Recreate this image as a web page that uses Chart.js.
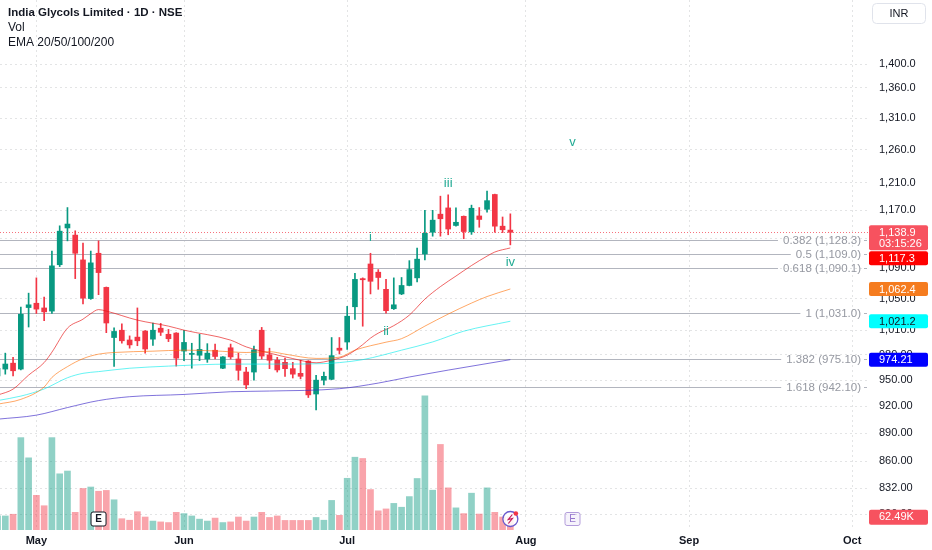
<!DOCTYPE html>
<html>
<head>
<meta charset="utf-8">
<title>India Glycols Limited · 1D · NSE</title>
<script src="https://cdn.jsdelivr.net/npm/chart.js@4.4.1/dist/chart.umd.min.js"></script>
<style>
  html, body { margin: 0; padding: 0; background: #fff; overflow: hidden; }
  #wrap { width: 932px; height: 550px; }
</style>
</head>
<body>
<div id="wrap"><canvas id="chart" width="932" height="550"></canvas></div>
<script>
// daily candles, index = trading day (0 is the one cut off at the left edge)
const opens = [955, 963, 970, 963, 1038.5, 1044, 1038, 1034, 1094.5, 1145, 1135, 1101, 1050, 1110, 1064.5, 1001,
  1010, 998, 1001.5, 1009, 999, 1012.5, 1005, 1006.5, 984.5, 980.5, 979.5, 975, 985.5, 964, 988.5, 975, 959.5,
  959.5, 1010, 980, 973.5, 971, 963.5, 958, 972.5, 934, 950, 951, 988, 995.5, 1039.5, 1076, 1095.5, 1084.5,
  1062, 1037, 1056, 1067, 1077, 1109, 1139, 1164.5, 1173.5, 1148.5, 1161.5, 1139.5, 1162, 1171.5, 1193, 1147.5, 1142];
const highs = [968, 982, 977, 1039, 1057, 1077, 1052, 1113, 1148, 1174, 1141, 1124, 1113, 1127, 1065, 1013,
  1018, 1003, 1038, 1009.5, 1019, 1018.5, 1011, 1007, 1010, 994, 1005, 993.5, 993, 978, 993, 982, 965,
  990.5, 1013.5, 988, 977, 976, 971, 973.5, 973, 955.5, 959.5, 1001, 1001, 1040, 1083, 1077, 1110, 1088,
  1075, 1077, 1077.5, 1100, 1117, 1170, 1170, 1190.5, 1192.5, 1173.5, 1162, 1177.5, 1174, 1198, 1193.5, 1160.5, 1165];
const lows = [950, 957, 955, 962, 1014, 1031, 1022, 1031, 1092, 1127, 1076, 1043, 1049, 1055, 1007, 966,
  994, 988, 991, 982, 991.5, 1003.5, 996, 966.5, 973, 964, 973, 971, 975, 963.5, 975, 950, 940,
  950, 975, 963.5, 959.5, 954.5, 952.5, 951.5, 930, 916, 944.5, 950.5, 981, 986.5, 1023.5, 1015, 1056, 1062,
  1031.5, 1036, 1055, 1066.5, 1071.5, 1101, 1133.5, 1133.5, 1135.5, 1147.5, 1130, 1136, 1146, 1167.5, 1139, 1138.5, 1121.5];
const closes = [964, 969, 961, 1030, 1042, 1036.5, 1033, 1093, 1140.5, 1150.5, 1110, 1050.5, 1097, 1084, 1019, 1008.5,
  997, 992, 997, 987, 1010, 1007.5, 999.5, 976, 995, 981.5, 986.5, 982, 978, 977.5, 977.5, 961.5, 944.5,
  986, 978.5, 973.5, 962, 963.5, 957, 954.5, 933, 950, 954.5, 979, 985.5, 1027.5, 1075, 1074.5, 1072.5, 1077.5,
  1034.5, 1042, 1067, 1088, 1102, 1137.5, 1156, 1158, 1143.5, 1153, 1140, 1173, 1157, 1184, 1147.5, 1142.5, 1138.9];
// volume in thousands
const volumes = [66, 66, 74, 434, 339, 163, 114, 434, 264, 277, 83, 195, 202, 182, 186, 142,
  53, 46, 86, 61, 42, 38, 35, 83, 77, 66, 51, 42, 56, 35, 38, 61, 42,
  61, 83, 59, 66, 45, 45, 45, 45, 59, 46, 139, 69, 243, 342, 336, 190, 90,
  99, 125, 107, 157, 242, 630, 187, 402, 198, 104, 77, 173, 75, 198, 83, 61, 62.49];

// EMA lines at a few trading days
const ema20Idx = [0, 2, 4, 6, 7, 9, 11, 12, 13, 14, 18, 22, 24, 30, 32, 35, 38, 41, 43, 45, 47, 48, 49, 51, 53, 55, 57, 59, 61, 63, 64, 66];
const ema20 = [932.7, 939.6, 955.9, 970.7, 983.2, 1012.6, 1023.8, 1030.8, 1035.9, 1034, 1022.6, 1015.1, 1010.1, 997.8, 989.6,
  982.1, 975.5, 970.5, 973.6, 979.6, 992.3, 1000.3, 1006.4, 1015.7, 1028.9, 1049.3, 1065.5, 1079.4, 1093.4, 1106.1, 1111.7, 1117.3];
const ema50Idx = [0, 3, 6, 7, 9, 11, 13, 15, 20, 24, 28, 32, 35, 37, 41, 44, 46, 50, 52, 55, 58, 61, 63, 66];
const ema50 = [922.4, 927.9, 942.1, 953.2, 965.9, 975.4, 980.8, 982.8, 984.4, 985.6, 984.7, 982.8, 983.8, 980.8, 975.7,
  977.2, 985.6, 995.3, 999.6, 1015.1, 1030.2, 1044.2, 1052.6, 1062.4];
const ema100Idx = [0, 3, 6, 9, 11, 13, 17, 22, 26, 30, 36, 42, 44, 47, 52, 56, 60, 66];
const ema100 = [926.5, 931.6, 939.8, 952.8, 958, 960, 964, 966.5, 968.1, 968.9, 968.9, 969.5, 970.7, 974.2, 985.6, 995.6, 1008.8, 1021.2];
const ema200Idx = [0, 5, 9, 13, 17, 24, 30, 35, 44, 49, 53, 58, 66];
const ema200 = [905.6, 910.1, 918.6, 926.5, 930.9, 933.5, 936.6, 937.4, 940.1, 946.6, 953.7, 961.8, 974.21];

// fibonacci levels
const fibRatios = ["0.382", "0.5", "0.618", "1", "1.382", "1.618"];
const fibPrices = [1128.3, 1109.0, 1090.1, 1031.0, 975.10, 942.10];

// elliott wave labels
const waveText = ["i", "ii", "iii", "iv", "v"];
const waveIdx = [48, 50, 58, 66, 74];
const wavePrice = [1132, 1009, 1210, 1098, 1272];

// axis ticks
const monthNames = ["May", "Jun", "Jul", "Aug", "Sep", "Oct"];
const monthIdx = [5, 24, 45, 68, 89, 110];
const priceTicks = [1400, 1360, 1310, 1260, 1210, 1170, 1130, 1090, 1050, 1010, 980, 950, 920, 890, 860, 832, 806];

// earnings / event markers on the time line
const earningsIdx = [13, 74];
const newsIdx = 66;
const countdown = "03:15:26";

const GREEN = "#089981";
const RED = "#F23645";
const FONT = '"Liberation Sans", Arial, sans-serif';

const days = opens.map((_, i) => i);
const last = days.length - 1;
const candleColors = days.map(i => closes[i] >= opens[i] ? GREEN : RED);
const volColors = days.map(i => closes[i] >= opens[i] ? "rgba(8,153,129,0.45)" : "rgba(242,54,69,0.45)");

function fmtPrice(v) {
  return v >= 1000
    ? v.toLocaleString("en-US", {minimumFractionDigits: 1, maximumFractionDigits: 1})
    : v.toFixed(2);
}

function emaLine(label, idx, vals, color) {
  return {
    type: "line", label, yAxisID: "y", order: 1,
    data: idx.map((x, k) => ({x, y: vals[k]})),
    borderColor: color, borderWidth: 1, pointRadius: 0,
    cubicInterpolationMode: "monotone"
  };
}

function box(ctx, x, y, w, h, fill) {
  ctx.fillStyle = fill;
  ctx.beginPath();
  if (ctx.roundRect) ctx.roundRect(x, y, w, h, 2); else ctx.rect(x, y, w, h);
  ctx.fill();
}

const overlay = {
  id: "overlay",
  beforeDatasetsDraw(chart) {
    const {ctx, chartArea, scales: {y}} = chart;
    ctx.save();
    ctx.font = "11.5px " + FONT;
    ctx.textAlign = "right";
    ctx.textBaseline = "middle";
    ctx.lineWidth = 1;
    fibRatios.forEach((r, k) => {
      const py = Math.round(y.getPixelForValue(fibPrices[k])) + 0.5;
      const label = `${r} (${fmtPrice(fibPrices[k])})`;
      const right = chartArea.right - 7;
      const tw = ctx.measureText(label).width;
      ctx.strokeStyle = "#b2b5be";
      ctx.beginPath();
      ctx.moveTo(chartArea.left, py);
      ctx.lineTo(right - tw - 5, py);
      ctx.moveTo(chartArea.right - 4, py);
      ctx.lineTo(chartArea.right - 1, py);
      ctx.stroke();
      ctx.fillStyle = "#9598a1";
      ctx.fillText(label, right, py);
    });
    // last price line
    const cy = Math.round(y.getPixelForValue(closes[last])) + 0.5;
    ctx.strokeStyle = "rgba(242,54,69,0.7)";
    ctx.setLineDash([1, 2]);
    ctx.beginPath();
    ctx.moveTo(chartArea.left, cy);
    ctx.lineTo(chartArea.right, cy);
    ctx.stroke();
    ctx.restore();
  },
  afterDatasetsDraw(chart) {
    const {ctx, chartArea, scales: {x, y}} = chart;
    ctx.save();
    ctx.font = "13px " + FONT;
    ctx.fillStyle = "#22ab94";
    ctx.textAlign = "center";
    ctx.textBaseline = "middle";
    waveText.forEach((t, k) => {
      ctx.fillText(t, x.getPixelForValue(waveIdx[k]), y.getPixelForValue(wavePrice[k]));
    });

    const by = chartArea.bottom - 11;
    // past earnings
    let ex = x.getPixelForValue(earningsIdx[0]);
    ctx.fillStyle = "#fff";
    ctx.strokeStyle = "#131722";
    ctx.lineWidth = 1;
    ctx.beginPath();
    if (ctx.roundRect) ctx.roundRect(ex - 7.5, by - 7, 15, 14, 2); else ctx.rect(ex - 7.5, by - 7, 15, 14);
    ctx.fill(); ctx.stroke();
    ctx.fillStyle = "#131722";
    ctx.font = "bold 10px " + FONT;
    ctx.fillText("E", ex, by + 0.5);
    // upcoming earnings
    ex = x.getPixelForValue(earningsIdx[1]);
    ctx.strokeStyle = "#b39ddb";
    ctx.fillStyle = "rgba(179,157,219,0.12)";
    ctx.beginPath();
    if (ctx.roundRect) ctx.roundRect(ex - 7.5, by - 6.5, 15, 13, 2); else ctx.rect(ex - 7.5, by - 6.5, 15, 13);
    ctx.fill(); ctx.stroke();
    ctx.fillStyle = "#9575cd";
    ctx.font = "10px " + FONT;
    ctx.fillText("E", ex, by + 0.5);
    // news bolt
    const nx = x.getPixelForValue(newsIdx);
    ctx.fillStyle = "rgba(255,255,255,0.85)";
    ctx.strokeStyle = "#6a5acd";
    ctx.lineWidth = 1.3;
    ctx.beginPath();
    ctx.arc(nx, by, 7.5, 0, Math.PI * 2);
    ctx.fill(); ctx.stroke();
    ctx.strokeStyle = "#c2185b";
    ctx.lineWidth = 1.2;
    ctx.beginPath();
    ctx.moveTo(nx + 2, by - 4.5);
    ctx.lineTo(nx - 2, by + 0.5);
    ctx.lineTo(nx + 2, by - 0.5);
    ctx.lineTo(nx - 2, by + 4.5);
    ctx.stroke();
    ctx.fillStyle = RED;
    ctx.beginPath();
    ctx.arc(nx + 5.5, by - 5.5, 2.3, 0, Math.PI * 2);
    ctx.fill();
    ctx.restore();
  },
  afterDraw(chart) {
    const {ctx, chartArea, scales: {y, vol}} = chart;
    ctx.save();
    ctx.textBaseline = "middle";
    ctx.textAlign = "left";
    // header
    ctx.fillStyle = "#131722";
    ctx.font = "bold 11.5px " + FONT;
    ctx.fillText("India Glycols Limited · 1D · NSE", 8, 13);
    ctx.font = "12px " + FONT;
    ctx.fillText("Vol", 8, 28);
    ctx.fillText("EMA 20/50/100/200", 8, 43);

    // currency button
    ctx.strokeStyle = "#e0e3eb";
    ctx.lineWidth = 1;
    ctx.beginPath();
    if (ctx.roundRect) ctx.roundRect(872.5, 3.5, 53, 20, 4); else ctx.rect(872.5, 3.5, 53, 20);
    ctx.stroke();
    ctx.textAlign = "center";
    ctx.font = "11px " + FONT;
    ctx.fillText("INR", 899, 14);

    // price scale value tags
    const bx = chartArea.right + 1;
    const bw = 59;
    const tx = chartArea.right + 11;
    ctx.textAlign = "left";
    ctx.font = "11px " + FONT;
    const tags = [
      {v: closes[last], bg: "#F7525F", fg: "#fff", sub: countdown},
      {v: ema20[ema20.length - 1], bg: "#FF0000", fg: "#fff"},
      {v: ema50[ema50.length - 1], bg: "#F57C1F", fg: "#fff"},
      {v: ema100[ema100.length - 1], bg: "#00FFFF", fg: "#131722"},
      {v: ema200[ema200.length - 1], bg: "#0000FF", fg: "#fff"}
    ];
    let prevBottom = -Infinity;
    tags.forEach(t => {
      const h = t.sub ? 25 : 14;
      let top = y.getPixelForValue(t.v) - 7;
      if (top < prevBottom + 1) top = prevBottom + 1;
      box(ctx, bx, top, bw, h, t.bg);
      ctx.fillStyle = t.fg;
      ctx.fillText(fmtPrice(t.v), tx, top + 7.5);
      if (t.sub) ctx.fillText(t.sub, tx, top + 18.5);
      prevBottom = top + h;
    });
    const vy = vol.getPixelForValue(volumes[last]);
    box(ctx, bx, vy - 7, bw, 15, "#F7525F");
    ctx.fillStyle = "#fff";
    ctx.fillText(volumes[last].toFixed(2) + "K", tx, vy + 0.5);
    ctx.restore();
  }
};

const gridColor = "rgba(42,46,57,0.13)";

new Chart(document.getElementById("chart").getContext("2d"), {
  type: "bar",
  data: {
    datasets: [
      emaLine("EMA 20", ema20Idx, ema20, "rgba(230,20,20,0.65)"),
      emaLine("EMA 50", ema50Idx, ema50, "rgba(255,110,0,0.6)"),
      emaLine("EMA 100", ema100Idx, ema100, "rgba(0,235,235,0.6)"),
      emaLine("EMA 200", ema200Idx, ema200, "rgba(60,40,200,0.65)"),
      {
        label: "body", yAxisID: "y", order: 2,
        data: days.map(i => ({x: i, y: [opens[i], closes[i]]})),
        backgroundColor: candleColors, barThickness: 5, minBarLength: 1, grouped: false
      },
      {
        label: "wick", yAxisID: "y", order: 3,
        data: days.map(i => ({x: i, y: [lows[i], highs[i]]})),
        backgroundColor: candleColors, barThickness: 1, grouped: false
      },
      {
        label: "Vol", yAxisID: "vol", order: 4,
        data: days.map(i => ({x: i, y: volumes[i]})),
        backgroundColor: volColors, barThickness: 6, grouped: false
      }
    ]
  },
  options: {
    responsive: false,
    animation: false,
    layout: {padding: 0},
    plugins: {legend: {display: false}, tooltip: {enabled: false}},
    scales: {
      x: {
        type: "linear", min: 0.318, max: 112.03, bounds: "data", offset: false,
        grid: {color: gridColor, drawTicks: false, offset: false},
        border: {display: false, dash: [2, 3]},
        ticks: {
          autoSkip: false, maxRotation: 0, padding: 4, color: "#131722",
          font: {family: FONT, size: 11, weight: "bold"},
          callback: v => monthNames[monthIdx.indexOf(v)] || ""
        },
        afterBuildTicks: s => { s.ticks = monthIdx.map(v => ({value: v})); },
        afterFit: s => { s.height = 20; s.paddingLeft = 0; s.paddingRight = 0; }
      },
      y: {
        type: "logarithmic", position: "right", min: 790.5, max: 1514.4, bounds: "data",
        grid: {color: gridColor, drawTicks: false},
        border: {display: false, dash: [2, 3]},
        ticks: {
          autoSkip: false, padding: 11, color: "#131722",
          font: {family: FONT, size: 11},
          callback: v => fmtPrice(v)
        },
        afterBuildTicks: s => { s.ticks = priceTicks.map(v => ({value: v})); },
        afterFit: s => { s.width = 64; s.paddingTop = 0; s.paddingBottom = 0; }
      },
      vol: {type: "linear", display: false, min: 0, max: 2490}
    }
  },
  plugins: [overlay]
});
</script>
</body>
</html>
